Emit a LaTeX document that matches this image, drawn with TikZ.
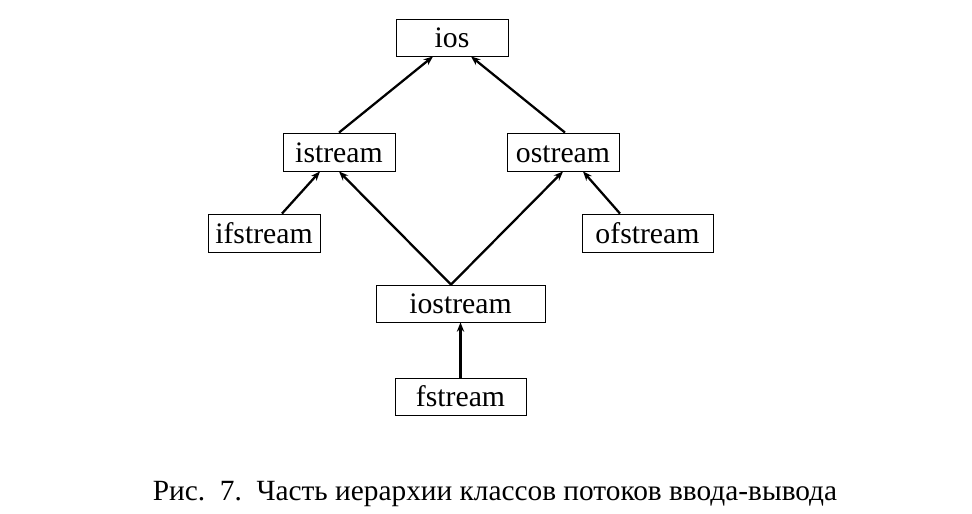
\documentclass[tikz,border=0pt]{standalone}
\usepackage{fontspec}
\setmainfont{Liberation Serif}
\usetikzlibrary{arrows.meta,calc}
\begin{document}
\begin{tikzpicture}[x=0.75pt,y=-0.75pt,
  cls/.style={draw,line width=0.65pt,inner sep=0pt,text height=16.2pt,text depth=1pt,font=\fontsize{22.3}{26}\selectfont},
  inh/.style={line width=1.7pt,-{Stealth[length=7pt,width=5.5pt]}}]
\useasboundingbox (0,0) rectangle (972,514);
\node[cls,minimum width=84pt,minimum height=27.75pt] (ios) at (452,37.5) {ios};
\node[cls,minimum width=84pt,minimum height=28.5pt] (istream) at (339,152) {istream};
\node[cls,minimum width=84pt,minimum height=28.5pt] (ostream) at (563,152) {ostream};
\node[cls,minimum width=84pt,minimum height=28.5pt] (ifstream) at (264,233) {ifstream};
\node[cls,minimum width=98.25pt,minimum height=28.5pt] (ofstream) at (647.5,233) {ofstream};
\node[cls,minimum width=126.75pt,minimum height=27.75pt] (iostream) at (460.5,303.5) {iostream};
\node[cls,minimum width=98.25pt,minimum height=27.75pt] (fstream) at (460.5,396.5) {fstream};
\draw[inh] (istream.north) -- ($(ios.south)+(-19,0)$);
\draw[inh] ($(ostream.north)+(2,0)$) -- ($(ios.south)+(19,0)$);
\draw[inh] ($(ifstream.north)+(18,0)$) -- ($(istream.south)+(-19,0)$);
\draw[inh] ($(ofstream.north)+(-27.5,0)$) -- ($(ostream.south)+(20,0)$);
\draw[inh] ($(iostream.north)+(-9.5,0)$) -- (istream.south);
\draw[inh] ($(iostream.north)+(-9.5,0)$) -- (ostream.south);
\draw[inh] (fstream.north) -- (iostream.south);
\node[font=\fontsize{22}{26}\selectfont,text height=16pt,text depth=1pt] (caption) at (495,490) {Рис.\ \ 7.\ \ Часть иерархии классов потоков ввода-вывода};
\end{tikzpicture}
\end{document}
